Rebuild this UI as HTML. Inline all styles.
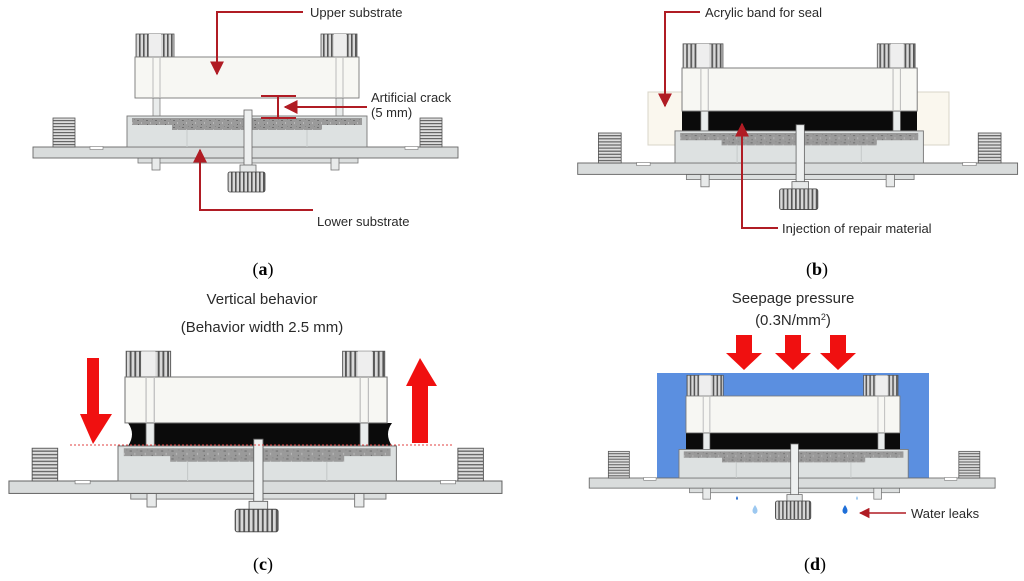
<!DOCTYPE html>
<html><head><meta charset="utf-8"><style>
html,body{margin:0;padding:0;background:#fff;}
svg{display:block;}
.lb{font-family:"Liberation Sans",sans-serif;font-size:13px;fill:#2a2a2a;}
.cap{font-family:"Liberation Serif",serif;font-size:18px;fill:#000;}
</style></head><body>
<svg width="1024" height="581" viewBox="0 0 1024 581" xmlns="http://www.w3.org/2000/svg">
<defs>
<pattern id="knurl" width="4" height="4" patternUnits="userSpaceOnUse">
<rect width="4" height="4" fill="#d8d8d8"/><rect width="1.6" height="4" fill="#555"/>
</pattern>
<pattern id="knurlh" width="4" height="3" patternUnits="userSpaceOnUse">
<rect width="4" height="3" fill="#ddd"/><rect width="4" height="1.2" fill="#666"/>
</pattern>
<pattern id="mort" width="9" height="7" patternUnits="userSpaceOnUse">
<rect width="9" height="7" fill="#9a9a9a"/><rect x="1" y="1" width="2" height="1" fill="#707070"/><rect x="5" y="3" width="1" height="2" fill="#b8b8b8"/><rect x="2" y="5" width="1" height="1" fill="#666"/><rect x="7" y="0" width="1" height="1" fill="#888"/>
</pattern>
<g id="lower">
<rect x="11" y="11" width="220" height="5" fill="#dcdfdf" stroke="#777" stroke-width="0.8"/>
<rect x="25" y="11" width="8" height="12" fill="#e8eaea" stroke="#777" stroke-width="0.8"/>
<rect x="204" y="11" width="8" height="12" fill="#e8eaea" stroke="#777" stroke-width="0.8"/>
<rect x="-94" y="0" width="425" height="11" fill="#d9dcdc" stroke="#666" stroke-width="0.9"/>
<rect x="-37" y="-0.5" width="13" height="3" fill="#fff" stroke="#777" stroke-width="0.6"/>
<rect x="278" y="-0.5" width="13" height="3" fill="#fff" stroke="#777" stroke-width="0.6"/>
<rect x="-74" y="-29" width="22" height="29" fill="url(#knurlh)" stroke="#555" stroke-width="0.8"/>
<rect x="293" y="-29" width="22" height="29" fill="url(#knurlh)" stroke="#555" stroke-width="0.8"/>
<rect x="0" y="-31" width="240" height="31" fill="#dde1e1" stroke="#777" stroke-width="0.9"/>
<path d="M5 -29 H235 V-22 H195 V-17 H45 V-22 H5 Z" fill="url(#mort)"/>
<line x1="60" y1="-17" x2="60" y2="0" stroke="#c6caca"/><line x1="180" y1="-17" x2="180" y2="0" stroke="#c6caca"/>
<rect x="117" y="-37" width="8" height="62" fill="#eef0f0" stroke="#666" stroke-width="0.8"/>
<rect x="113" y="18" width="16" height="8" fill="#e6e8e8" stroke="#666" stroke-width="0.8"/>
<rect x="101" y="25" width="37" height="20" rx="2" fill="url(#knurl)" stroke="#444" stroke-width="0.8"/>
</g>
<g id="upper">
<rect x="18" y="41" width="7" height="22" fill="#e9ecec" stroke="#777" stroke-width="0.7"/>
<rect x="201" y="41" width="7" height="22" fill="#e9ecec" stroke="#777" stroke-width="0.7"/>
<rect x="1" y="-23" width="38" height="23" fill="url(#knurl)" stroke="#555" stroke-width="0.8"/>
<rect x="186" y="-23" width="36" height="23" fill="url(#knurl)" stroke="#555" stroke-width="0.8"/>
<rect x="14" y="-23" width="12" height="23" fill="#eee"/>
<rect x="199" y="-23" width="12" height="23" fill="#eee"/>
<rect x="0" y="0" width="224" height="41" fill="#f7f7f3" stroke="#777" stroke-width="0.9"/>
<line x1="18" y1="0" x2="18" y2="41" stroke="#bbb"/><line x1="25" y1="0" x2="25" y2="41" stroke="#bbb"/>
<line x1="201" y1="0" x2="201" y2="41" stroke="#bbb"/><line x1="208" y1="0" x2="208" y2="41" stroke="#bbb"/>
</g>
<marker id="ah" viewBox="0 0 10 10" refX="9" refY="5" markerWidth="7" markerHeight="7" orient="auto"><path d="M0 0 L10 5 L0 10 Z" fill="#b01c24"/></marker>
</defs>

<!-- Panel a -->
<use href="#upper" transform="translate(135,57)"/>
<use href="#lower" transform="translate(127,147)"/>
<polyline points="303,12 217,12 217,74" fill="none" stroke="#b01c24" stroke-width="2" marker-end="url(#ah)"/>
<text class="lb" x="310" y="17">Upper substrate</text>
<g stroke="#b01c24" stroke-width="2"><line x1="261" y1="96" x2="296" y2="96"/><line x1="261" y1="118" x2="296" y2="118"/><line x1="278" y1="96" x2="278" y2="118"/></g>
<line x1="367" y1="107" x2="285" y2="107" stroke="#b01c24" stroke-width="2" marker-end="url(#ah)"/>
<text class="lb" x="371" y="102">Artificial crack</text>
<text class="lb" x="371" y="117">(5 mm)</text>
<polyline points="313,210 200,210 200,150" fill="none" stroke="#b01c24" stroke-width="2" marker-end="url(#ah)"/>
<text class="lb" x="317" y="226">Lower substrate</text>
<text class="cap" x="263" y="275" text-anchor="middle">(<tspan font-weight="bold">a</tspan>)</text>

<!-- Panel b -->
<rect x="648" y="92" width="301" height="53" fill="#faf7ee" stroke="#d8d4c8"/>
<rect x="682" y="110" width="235" height="23" fill="#0b0b0b"/>
<use href="#upper" transform="translate(682,68) scale(1.05)"/>
<use href="#lower" transform="translate(675,163) scale(1.035)"/>
<polyline points="700,12 665,12 665,106" fill="none" stroke="#b01c24" stroke-width="2" marker-end="url(#ah)"/>
<text class="lb" x="705" y="17">Acrylic band for seal</text>
<polyline points="778,228 742,228 742,124" fill="none" stroke="#b01c24" stroke-width="2" marker-end="url(#ah)"/>
<text class="lb" x="782" y="233">Injection of repair material</text>
<text class="cap" x="817" y="275" text-anchor="middle">(<tspan font-weight="bold">b</tspan>)</text>

<!-- Panel c -->
<path d="M128 423 H392 Q384 434 392 446 H128 Q136 434 128 423 Z" fill="#0b0b0b"/>
<use href="#upper" transform="translate(125,377) scale(1.17,1.12)"/>
<use href="#lower" transform="translate(118,481) scale(1.16,1.13)"/>
<line x1="70" y1="445" x2="452" y2="445" stroke="#e04040" stroke-width="1" stroke-dasharray="2,2"/>
<path d="M87 358 H99 V414 H112 L93 444 L80 414 H87 Z" fill="#f01010"/>
<path d="M420 358 L437 386 H428 V443 H412 V386 H406 Z" fill="#f01010"/>
<text class="lb" x="262" y="304" text-anchor="middle" style="font-size:15px">Vertical behavior</text>
<text class="lb" x="262" y="332" text-anchor="middle" style="font-size:15px">(Behavior width 2.5 mm)</text>
<text class="cap" x="263" y="570" text-anchor="middle">(<tspan font-weight="bold">c</tspan>)</text>

<!-- Panel d -->
<rect x="657" y="373" width="272" height="105" fill="#5b8fe0"/>
<rect x="686" y="432" width="214" height="19" fill="#0b0b0b"/>
<use href="#upper" transform="translate(686,396) scale(0.955,0.9)"/>
<use href="#lower" transform="translate(679,478) scale(0.955,0.92)"/>
<g fill="#f01010">
<path d="M736 335 H752 V353 H762 L744 370 L726 353 H736 Z"/>
<path d="M785 335 H801 V353 H811 L793 370 L775 353 H785 Z"/>
<path d="M830 335 H846 V353 H856 L838 370 L820 353 H830 Z"/>
</g>
<text class="lb" x="793" y="303" text-anchor="middle" style="font-size:15px">Seepage pressure</text>
<text class="lb" x="793" y="325" text-anchor="middle" style="font-size:15px">(0.3N/mm<tspan dy="-5" font-size="9">2</tspan><tspan dy="5">)</tspan></text>
<path d="M737 496 q-2 3 0 4 q2 -1 0 -4Z" fill="#2a6fd0"/>
<path d="M857 496 q-2 3 0 4 q2 -1 0 -4Z" fill="#9cc8f0"/>
<path d="M755 505 q-5 7 0 9 q5 -2 0 -9Z" fill="#9cc8f0"/>
<path d="M845 505 q-5 7 0 9 q5 -2 0 -9Z" fill="#1f6fd8"/>
<line x1="906" y1="513" x2="860" y2="513" stroke="#b01c24" stroke-width="1.5" marker-end="url(#ah)"/>
<text class="lb" x="911" y="518">Water leaks</text>
<text class="cap" x="815" y="570" text-anchor="middle">(<tspan font-weight="bold">d</tspan>)</text>
</svg>
</body></html>
